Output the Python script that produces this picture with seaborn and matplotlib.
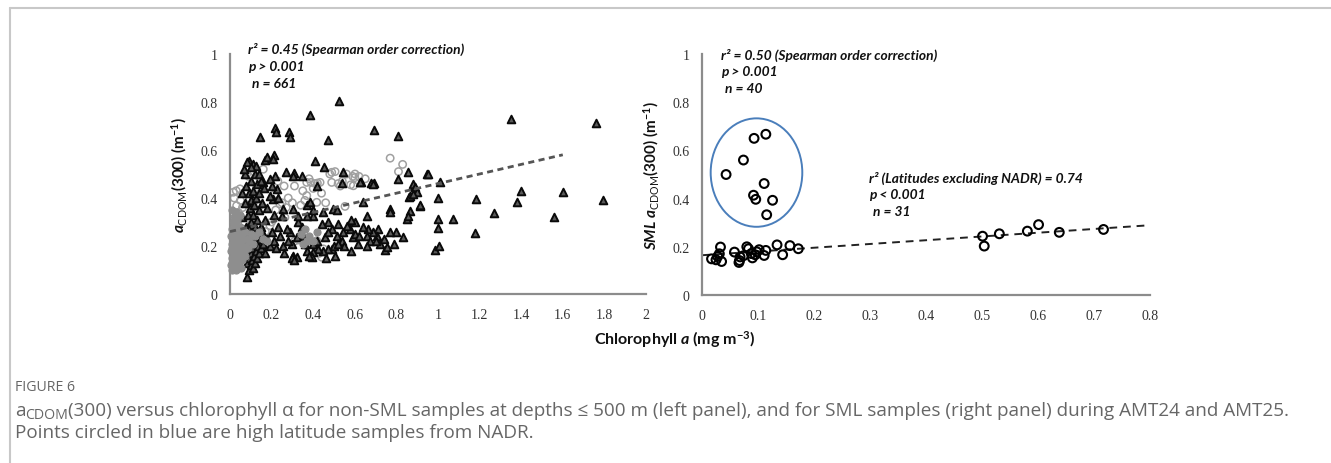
import numpy as np
import pandas as pd
import matplotlib
matplotlib.use('Agg')
import matplotlib.pyplot as plt
from matplotlib.patches import Ellipse
from matplotlib.lines import Line2D
import seaborn as sns

# ---- left panel: non-SML samples (depth <= 500 m) ----
tri_x = [0.524, 0.385, 0.144, 0.216, 0.221, 0.285, 0.288, 0.47, 0.69, 0.81, 0.09, 0.11, 0.125, 0.168, 0.178,
         0.21, 0.207, 0.41, 0.45, 0.27, 0.31, 0.345, 0.537, 0.63, 0.68, 0.69, 0.857, 0.947, 1.01, 0.88,
         1.351, 1.758, 0.95, 0.878, 0.889, 0.897, 0.862, 0.913, 1.0, 1.0, 1.0, 1.07, 1.183, 1.178, 1.27,
         1.398, 1.381, 1.6, 1.558, 1.795, 0.986, 1.005, 0.865, 0.85, 0.83,
         0.721, 0.713, 0.705, 0.689, 0.665, 0.657, 0.641, 0.673, 0.617, 0.593, 0.577, 0.561, 0.545, 0.537,
         0.521, 0.513, 0.505, 0.489, 0.473, 0.457, 0.449, 0.425, 0.401, 0.393, 0.369, 0.353, 0.345, 0.329,
         0.321, 0.297, 0.288, 0.273, 0.253, 0.321, 0.305, 0.80, 0.77, 0.79, 0.745, 0.753, 0.865, 0.88, 0.913,
         0.494, 0.513, 0.449, 0.401, 0.369, 0.417, 0.657, 0.641, 0.689, 0.77, 0.77, 0.857, 0.545, 0.625,
         0.809, 0.305, 0.216, 0.192, 0.16, 0.224, 0.208, 0.256, 0.248, 0.305, 0.385, 0.401, 0.329, 0.369,
         0.6, 0.58, 0.47, 0.44, 0.49, 0.6, 0.62, 0.7, 0.74, 0.66, 0.55, 0.58, 0.4, 0.42, 0.36, 0.28, 0.26,
         0.3, 0.31, 0.38, 0.46, 0.5, 0.52, 0.47,
         0.05, 0.055, 0.06, 0.06, 0.065, 0.07, 0.07, 0.075, 0.075, 0.08, 0.08, 0.08, 0.085, 0.085, 0.09,
         0.09, 0.09, 0.09, 0.09, 0.095, 0.1, 0.1, 0.1, 0.1, 0.1, 0.1, 0.105, 0.105, 0.11, 0.11, 0.11, 0.11,
         0.11, 0.115, 0.115, 0.12, 0.12, 0.12, 0.12, 0.125, 0.125, 0.13, 0.13, 0.13, 0.13, 0.135, 0.14,
         0.14, 0.14, 0.145, 0.15, 0.15, 0.155, 0.16, 0.16, 0.165, 0.17, 0.17, 0.18, 0.18, 0.19, 0.19, 0.2,
         0.2, 0.21, 0.21, 0.22, 0.23, 0.23, 0.24, 0.06, 0.07, 0.08, 0.065, 0.1, 0.14, 0.15]
tri_y = [0.805, 0.746, 0.654, 0.69, 0.675, 0.676, 0.654, 0.64, 0.683, 0.658, 0.554, 0.54, 0.533, 0.56, 0.57,
         0.58, 0.563, 0.556, 0.53, 0.51, 0.504, 0.493, 0.463, 0.468, 0.463, 0.463, 0.508, 0.5, 0.468, 0.45,
         0.729, 0.711, 0.5, 0.458, 0.446, 0.425, 0.405, 0.368, 0.399, 0.313, 0.275, 0.313, 0.396, 0.254,
         0.336, 0.43, 0.385, 0.424, 0.32, 0.393, 0.183, 0.2, 0.347, 0.313, 0.238,
         0.208, 0.271, 0.243, 0.257, 0.271, 0.243, 0.278, 0.222, 0.208, 0.236, 0.271, 0.285, 0.257, 0.222,
         0.292, 0.243, 0.16, 0.188, 0.188, 0.236, 0.18, 0.188, 0.174, 0.153, 0.18, 0.243, 0.278, 0.299,
         0.236, 0.208, 0.257, 0.271, 0.201, 0.153, 0.16, 0.26, 0.258, 0.208, 0.185, 0.196, 0.41, 0.417, 0.371,
         0.354, 0.35, 0.34, 0.35, 0.37, 0.451, 0.326, 0.382, 0.458, 0.354, 0.34, 0.326, 0.507, 0.465,
         0.479, 0.493, 0.493, 0.479, 0.465, 0.438, 0.396, 0.354, 0.326, 0.354, 0.382, 0.326, 0.326, 0.326,
         0.3, 0.31, 0.3, 0.29, 0.27, 0.25, 0.24, 0.22, 0.23, 0.2, 0.2, 0.18, 0.21, 0.22, 0.21, 0.22, 0.17,
         0.15, 0.14, 0.16, 0.15, 0.2, 0.21, 0.26,
         0.12, 0.18, 0.25, 0.32, 0.15, 0.21, 0.38, 0.28, 0.45, 0.07, 0.13, 0.18, 0.24, 0.33, 0.1,
         0.15, 0.2, 0.27, 0.42, 0.36, 0.12, 0.17, 0.22, 0.3, 0.39, 0.47, 0.14, 0.26, 0.11, 0.19, 0.24, 0.33,
         0.43, 0.16, 0.37, 0.13, 0.21, 0.28, 0.5, 0.18, 0.4, 0.15, 0.25, 0.31, 0.46, 0.2, 0.17,
         0.35, 0.42, 0.23, 0.19, 0.28, 0.38, 0.21, 0.25, 0.44, 0.17, 0.31, 0.23, 0.36, 0.2, 0.41, 0.26,
         0.45, 0.22, 0.33, 0.19, 0.28, 0.4, 0.24, 0.42, 0.5, 0.55, 0.52, 0.53, 0.5, 0.47]

circ_x = [0.77, 0.83, 0.81, 0.59, 0.6, 0.505, 0.48, 0.41, 0.42, 0.16, 0.08, 0.09, 0.145, 0.489, 0.489, 0.53,
          0.52, 0.553, 0.417, 0.369, 0.369, 0.39, 0.433, 0.601, 0.593, 0.58, 0.449, 0.441, 0.417, 0.385,
          0.353, 0.33, 0.31, 0.264, 0.24, 0.216, 0.128, 0.048, 0.016, 0.096, 0.144, 0.032, 0.04, 0.096,
          0.144, 0.168, 0.096, 0.192, 0.192, 0.02, 0.03, 0.05, 0.06, 0.07, 0.11, 0.12, 0.13, 0.15, 0.17,
          0.2, 0.22, 0.25, 0.27, 0.28, 0.3, 0.34, 0.36, 0.35, 0.38, 0.4, 0.44, 0.46, 0.31, 0.26, 0.23,
          0.54, 0.56, 0.62, 0.65, 0.37, 0.39, 0.34, 0.41, 0.43]
circ_y = [0.566, 0.54, 0.51, 0.49, 0.485, 0.51, 0.5, 0.46, 0.462, 0.52, 0.5, 0.49, 0.47, 0.507, 0.465, 0.45,
          0.46, 0.365, 0.382, 0.41, 0.465, 0.465, 0.465, 0.5, 0.451, 0.455, 0.188, 0.153, 0.222, 0.222,
          0.222, 0.225, 0.22, 0.319, 0.375, 0.417, 0.444, 0.438, 0.424, 0.396, 0.368, 0.368, 0.34, 0.285,
          0.222, 0.208, 0.174, 0.285, 0.229, 0.4, 0.43, 0.39, 0.36, 0.3, 0.36, 0.41, 0.29, 0.25, 0.26,
          0.3, 0.35, 0.38, 0.36, 0.4, 0.38, 0.37, 0.39, 0.43, 0.48, 0.44, 0.42, 0.38, 0.45, 0.45, 0.47,
          0.47, 0.5, 0.49, 0.48, 0.2, 0.21, 0.24, 0.2, 0.17]

grey_x = [0.005, 0.005, 0.005, 0.008, 0.008, 0.01, 0.01, 0.012, 0.012, 0.015, 0.015, 0.015, 0.018, 0.02,
          0.02, 0.02, 0.022, 0.025, 0.025, 0.025, 0.028, 0.03, 0.03, 0.03, 0.032, 0.035, 0.035, 0.035,
          0.038, 0.04, 0.04, 0.04, 0.042, 0.045, 0.045, 0.048, 0.05, 0.05, 0.052, 0.055, 0.055, 0.058,
          0.06, 0.06, 0.065, 0.065, 0.07, 0.07, 0.075, 0.08, 0.085, 0.09, 0.1, 0.11, 0.12, 0.14, 0.16,
          0.18, 0.02, 0.01, 0.03, 0.05, 0.34, 0.36, 0.38, 0.4, 0.37, 0.42, 0.35]
grey_y = [0.12, 0.18, 0.24, 0.15, 0.21, 0.1, 0.27, 0.13, 0.19, 0.16, 0.23, 0.3, 0.11, 0.14, 0.2, 0.26, 0.17,
          0.12, 0.22, 0.29, 0.15, 0.1, 0.19, 0.25, 0.13, 0.17, 0.22, 0.31, 0.14, 0.11, 0.2, 0.27, 0.16,
          0.13, 0.24, 0.19, 0.15, 0.28, 0.22, 0.11, 0.17, 0.25, 0.14, 0.2, 0.23, 0.18, 0.16, 0.26, 0.2,
          0.23, 0.19, 0.22, 0.25, 0.21, 0.24, 0.26, 0.23, 0.22, 0.32, 0.35, 0.34, 0.33, 0.25, 0.27, 0.24,
          0.22, 0.22, 0.26, 0.21]

left_trend_x = [0.0, 1.6]
left_trend_y = [0.26, 0.58]

# ---- right panel: SML samples ----
nadr_x = [0.043, 0.074, 0.093, 0.114, 0.111, 0.092, 0.096, 0.126, 0.1155]
nadr_y = [0.5, 0.56, 0.65, 0.667, 0.4625, 0.414, 0.397, 0.393, 0.333]
sml_x = [0.017, 0.025, 0.033, 0.031, 0.035, 0.028, 0.058, 0.067, 0.068, 0.066, 0.074, 0.08, 0.083, 0.09,
         0.095, 0.098, 0.102, 0.111, 0.114, 0.134, 0.144, 0.157, 0.172, 0.088,
         0.501, 0.504, 0.531, 0.581, 0.601, 0.638, 0.717]
sml_y = [0.15, 0.146, 0.199, 0.171, 0.139, 0.16, 0.178, 0.143, 0.158, 0.135, 0.163, 0.2, 0.192, 0.154,
         0.167, 0.179, 0.188, 0.164, 0.185, 0.208, 0.167, 0.205, 0.192, 0.172,
         0.244, 0.203, 0.254, 0.265, 0.292, 0.26, 0.272]
right_trend_x = [0.0, 0.79]
right_trend_y = [0.165, 0.288]

left_ticks_x = [0, 0.2, 0.4, 0.6, 0.8, 1, 1.2, 1.4, 1.6, 1.8, 2]
right_ticks_x = [0, 0.1, 0.2, 0.3, 0.4, 0.5, 0.6, 0.7, 0.8]
ticks_y = [0, 0.2, 0.4, 0.6, 0.8, 1]

sns.set_style('white')
plt.rcParams['mathtext.fontset'] = 'custom'
plt.rcParams['mathtext.rm'] = 'Lato:bold'
plt.rcParams['mathtext.it'] = 'Lato:italic:bold'
plt.rcParams['mathtext.bf'] = 'Lato:bold'
plt.rcParams['mathtext.sf'] = 'Lato'

W, H = 1331, 464
fig = plt.figure(figsize=(W / 100, H / 100), dpi=100)


def fx(px):
    return px / W


def fy(py):
    return 1 - py / H


ax1 = fig.add_axes([fx(230), fy(295), 416 / W, 240 / H])
ax2 = fig.add_axes([fx(702), fy(296), 448 / W, 241 / H])

tri_df = pd.DataFrame({'chl': tri_x, 'acdom': tri_y})
circ_df = pd.DataFrame({'chl': circ_x, 'acdom': circ_y})
grey_df = pd.DataFrame({'chl': grey_x, 'acdom': grey_y})

sns.scatterplot(data=circ_df, x='chl', y='acdom', ax=ax1, marker='o', s=28,
                facecolor='none', edgecolor='#a0a0a0', linewidth=1.1, zorder=2)
sns.scatterplot(data=tri_df, x='chl', y='acdom', ax=ax1, marker='^', s=30,
                color='#5a5a5a', edgecolor='#0a0a0a', linewidth=1.4, zorder=3)
sns.scatterplot(data=grey_df, x='chl', y='acdom', ax=ax1, marker='o', s=26,
                color='#8e8e8e', edgecolor='#8e8e8e', linewidth=0.8, zorder=4)
ax1.plot(left_trend_x, left_trend_y, color='#555555', lw=2.0, ls=(0, (2.2, 1.6)), zorder=5)

sml_df = pd.DataFrame({'chl': sml_x + nadr_x, 'acdom': sml_y + nadr_y})
sns.scatterplot(data=sml_df, x='chl', y='acdom', ax=ax2, marker='o', s=40,
                facecolor='none', edgecolor='black', linewidth=1.5, zorder=3)
ax2.plot(right_trend_x, right_trend_y, color='#222222', lw=1.4, ls=(0, (4, 3)), zorder=2)
ax2.add_patch(Ellipse((0.0973, 0.508), 0.1636, 0.45, fill=False, edgecolor='#4a7ebb', lw=1.4))

for ax, xt, xmax in [(ax1, left_ticks_x, 2), (ax2, right_ticks_x, 0.8)]:
    ax.set_xlim(0, xmax)
    ax.set_ylim(0, 1)
    ax.set_xticks(xt)
    ax.set_xticklabels([f'{v:g}' for v in xt])
    ax.set_yticks(ticks_y)
    ax.set_yticklabels([f'{v:g}' for v in ticks_y])
    ax.set_xlabel('')
    ax.set_ylabel('')
    for s in ['top', 'right']:
        ax.spines[s].set_visible(False)
    for s in ['left', 'bottom']:
        ax.spines[s].set_color('#8c8c8c')
        ax.spines[s].set_linewidth(1.6)
    ax.tick_params(axis='both', direction='out', length=5, width=1.2, color='#8c8c8c',
                   labelcolor='#333333', labelsize=10)
    ax.tick_params(axis='x', pad=5)
    ax.tick_params(axis='y', pad=4)
    for lab in ax.get_xticklabels() + ax.get_yticklabels():
        lab.set_fontfamily('Liberation Serif')
    ax.patch.set_alpha(0)
    for c in ax.collections:
        c.set_clip_on(False)

ax1.set_ylabel(r'$a_{\mathsf{CDOM}}$(300) (m$^{-1}$)', fontfamily='Lato', fontweight='bold',
               fontsize=11, color='#111111', labelpad=8)
ax2.set_ylabel(r'$SML\ a_{\mathsf{CDOM}}$(300) (m$^{-1}$)', fontfamily='Lato', fontweight='bold',
               fontsize=11, color='#111111', labelpad=8)

ann = dict(fontfamily='Lato', fontweight='bold', fontstyle='italic', fontsize=9.9,
           color='#111111', va='center', ha='left')
fig.text(fx(248), fy(49), 'r² = 0.45 (Spearman order correction)', **ann)
fig.text(fx(248), fy(67), 'p > 0.001', **ann)
fig.text(fx(252), fy(84), 'n = 661', **ann)
fig.text(fx(721), fy(55), 'r² = 0.50 (Spearman order correction)', **ann)
fig.text(fx(721), fy(72), 'p > 0.001', **ann)
fig.text(fx(725), fy(89), 'n = 40', **ann)
fig.text(fx(869), fy(178), 'r² (Latitudes excluding NADR) = 0.74', **ann)
fig.text(fx(869), fy(195), 'p < 0.001', **ann)
fig.text(fx(873), fy(212), 'n = 31', **ann)

fig.text(fx(675), fy(340), r'Chlorophyll $a$ (mg m$^{-3}$)', fontfamily='Lato', fontweight='bold',
         fontsize=11.5, color='#111111', ha='center', va='center')

# frame around the figure
fig.add_artist(Line2D([fx(10), 1], [fy(9), fy(9)], color='#c8c8c8', lw=1.5))
fig.add_artist(Line2D([fx(10), fx(10)], [fy(9), 0], color='#c8c8c8', lw=1.5))

# caption
cap = dict(fontfamily=['Open Sans', 'DejaVu Sans'], color='#666666', va='baseline', ha='left')
fig.text(fx(15), fy(391), 'FIGURE 6', fontsize=10.2, **cap)
renderer = fig.canvas.get_renderer()
t = fig.text(fx(15), fy(416), 'a', fontsize=13.6, **cap)
x_end = t.get_window_extent(renderer).x1
t = fig.text(x_end / W, fy(419), 'CDOM', fontsize=10.2, **cap)
x_end = t.get_window_extent(renderer).x1
fig.text(x_end / W, fy(416), '(300) versus chlorophyll α for non-SML samples at depths ≤ 500 m '
         '(left panel), and for SML samples (right panel) during AMT24 and AMT25.', fontsize=13.6, **cap)
fig.text(fx(15), fy(438), 'Points circled in blue are high latitude samples from NADR.',
         fontsize=13.6, **cap)

fig.savefig('out.png', dpi=100)
